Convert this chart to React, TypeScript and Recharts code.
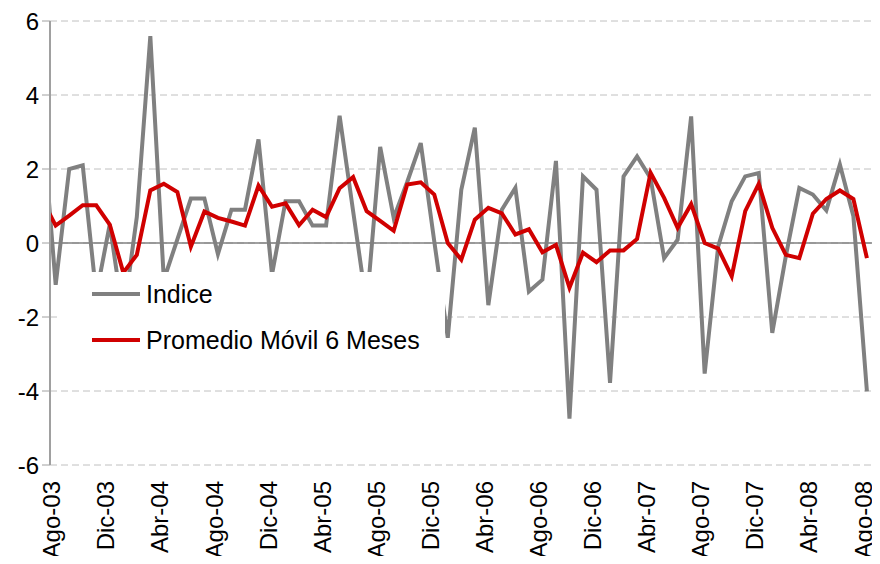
import React from "react";
import {
  LineChart,
  Line,
  XAxis,
  YAxis,
  CartesianGrid,
  ReferenceLine,
  Legend,
} from "recharts";

// months from Jul-03 (partly clipped at the axis) to Ago-08
const months = [
  "Jul-03", "Ago-03", "Sep-03", "Oct-03", "Nov-03", "Dic-03",
  "Ene-04", "Feb-04", "Mar-04", "Abr-04", "May-04", "Jun-04", "Jul-04", "Ago-04", "Sep-04", "Oct-04", "Nov-04", "Dic-04",
  "Ene-05", "Feb-05", "Mar-05", "Abr-05", "May-05", "Jun-05", "Jul-05", "Ago-05", "Sep-05", "Oct-05", "Nov-05", "Dic-05",
  "Ene-06", "Feb-06", "Mar-06", "Abr-06", "May-06", "Jun-06", "Jul-06", "Ago-06", "Sep-06", "Oct-06", "Nov-06", "Dic-06",
  "Ene-07", "Feb-07", "Mar-07", "Abr-07", "May-07", "Jun-07", "Jul-07", "Ago-07", "Sep-07", "Oct-07", "Nov-07", "Dic-07",
  "Ene-08", "Feb-08", "Mar-08", "Abr-08", "May-08", "Jun-08", "Jul-08", "Ago-08",
];

const indice = [
  3.4, -1.13, 2.0, 2.1, -1.4, 0.5, -2.0, 0.7, 5.59, -1.0, 0.1, 1.2, 1.2,
  -0.3, 0.9, 0.9, 2.8, -0.85, 1.13, 1.13, 0.47, 0.47, 3.44, 0.86, -1.7,
  2.6, 0.68, 1.65, 2.7, 0.05, -2.56, 1.44, 3.12, -1.68, 0.9, 1.49, -1.31,
  -0.99, 2.22, -4.75, 1.8, 1.44, -3.78, 1.8, 2.34, 1.75, -0.41, 0.09, 3.42,
  -3.53, -0.09, 1.13, 1.8, 1.89, -2.43, -0.36, 1.49, 1.31, 0.88, 2.12, 0.72,
  -4.01,
];

const promedio = [
  1.18, 0.47, 0.74, 1.02, 1.02, 0.5, -0.8, -0.32, 1.42, 1.6, 1.38, -0.1,
  0.85, 0.68, 0.58, 0.47, 1.55, 0.98, 1.07, 0.48, 0.9, 0.7, 1.48, 1.78,
  0.86, 0.6, 0.33, 1.58, 1.64, 1.31, 0.0, -0.45, 0.63, 0.95, 0.8, 0.23,
  0.37, -0.25, -0.05, -1.21, -0.26, -0.52, -0.2, -0.2, 0.11, 1.9, 1.22,
  0.41, 1.05, 0.0, -0.15, -0.9, 0.86, 1.6, 0.41, -0.32, -0.41, 0.79, 1.19,
  1.42, 1.19, -0.41,
];

const yTicks = [-6, -4, -2, 0, 2, 4, 6];
const xTickLabels = [
  "Ago-03", "Dic-03", "Abr-04", "Ago-04", "Dic-04", "Abr-05", "Ago-05", "Dic-05",
  "Abr-06", "Ago-06", "Dic-06", "Abr-07", "Ago-07", "Dic-07", "Abr-08", "Ago-08",
];

// idx 0 = Ago-03, so Jul-03 sits at -1
const data = months.map((m, i) => ({
  idx: i - 1,
  month: m,
  indice: indice[i],
  promedio: promedio[i],
}));
const xTicks = xTickLabels.map((l) => months.indexOf(l) - 1);

const FONT = "'Liberation Sans', Arial, sans-serif";

const XTick = ({ x, payload }: any) => (
  <g transform={`translate(${x - 4},481)`}>
    <text
      transform="rotate(-90)"
      textAnchor="end"
      dy="0.36em"
      fontSize={24}
      fontFamily={FONT}
      fill="#000"
    >
      {months[payload.value + 1]}
    </text>
  </g>
);

const LegendBox = () => (
  <div style={{ position: "relative", width: 385, height: 90, background: "#fff", fontFamily: FONT, fontSize: 25, color: "#000" }}>
    <div style={{ position: "absolute", left: 32, top: 20, width: 48, height: 4, background: "#808080" }} />
    <div style={{ position: "absolute", left: 86, top: 7, lineHeight: "30px", whiteSpace: "nowrap" }}>Indice</div>
    <div style={{ position: "absolute", left: 32, top: 66, width: 48, height: 4, background: "#d00000" }} />
    <div style={{ position: "absolute", left: 86, top: 53, lineHeight: "30px", whiteSpace: "nowrap" }}>Promedio Móvil 6 Meses</div>
  </div>
);

export default function App() {
  return (
    <div style={{ margin: -8, width: 880, height: 564, background: "#fff" }}>
      <LineChart
        width={880}
        height={564}
        data={data}
        margin={{ top: 21, right: 7, bottom: 4, left: 0 }}
      >
        <CartesianGrid vertical={false} stroke="#c0c0c0" strokeDasharray="7 4" />
        <XAxis
          type="number"
          dataKey="idx"
          domain={[-0.42, 60.45]}
          allowDataOverflow
          ticks={xTicks}
          interval={0}
          tick={<XTick />}
          tickLine={false}
          axisLine={false}
          height={95}
        />
        <YAxis
          domain={[-6, 6]}
          ticks={yTicks}
          interval={0}
          width={50}
          allowDataOverflow
          tick={{ fontSize: 24, fill: "#000", fontFamily: FONT }}
          tickSize={8}
          tickMargin={3}
          tickLine={{ stroke: "#a0a0a0" }}
          axisLine={{ stroke: "#a0a0a0", strokeWidth: 2 }}
        />
        <ReferenceLine y={0} stroke="#808080" strokeWidth={1.5} />
        <Line
          type="linear"
          dataKey="indice"
          stroke="#808080"
          strokeWidth={4}
          dot={false}
          isAnimationActive={false}
        />
        <Line
          type="linear"
          dataKey="promedio"
          stroke="#d00000"
          strokeWidth={4}
          dot={false}
          isAnimationActive={false}
        />
        <Legend
          layout="horizontal"
          verticalAlign="middle"
          align="center"
          content={<LegendBox />}
          wrapperStyle={{ left: 60, top: 272, width: 385, height: 90 }}
        />
      </LineChart>
    </div>
  );
}
